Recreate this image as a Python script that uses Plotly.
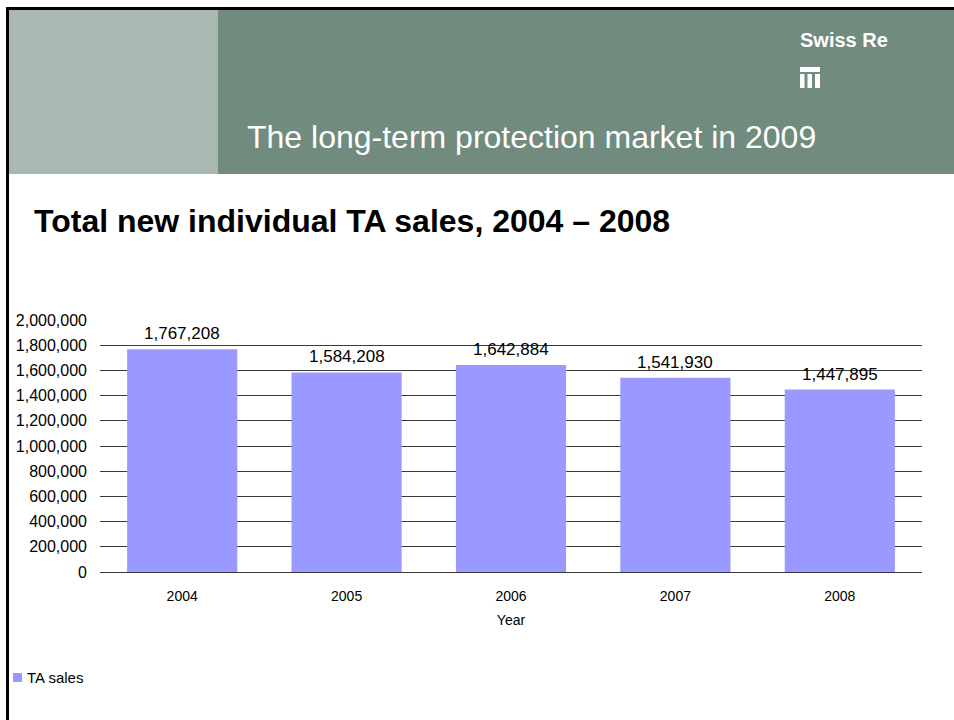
import plotly.graph_objects as go

# Chart data
years = ["2004", "2005", "2006", "2007", "2008"]
ta_sales = [1767208, 1584208, 1642884, 1541930, 1447895]
series_name = "TA sales"
y_ticks = list(range(0, 2000001, 200000))
y_tick_labels = [f"{v:,}" for v in y_ticks]

W, H = 954, 720
FONT = "Liberation Sans, Arial, sans-serif"
BAR_COLOR = "#9999ff"


def px(x):
    return x / W


def py(y):
    return 1 - y / H


# plot area in pixels
PL, PR, PT, PB = 100, 922, 320, 572

fig = go.Figure()
fig.add_trace(go.Bar(
    x=years, y=ta_sales, name=series_name,
    marker=dict(color=BAR_COLOR, line=dict(width=0)),
    showlegend=False,
))

# value labels above the bars (category index positions)
for i, v in enumerate(ta_sales):
    fig.add_annotation(x=i, y=v, xref="x", yref="y", text=f"{v:,}",
                       showarrow=False, yanchor="bottom", yshift=4,
                       font=dict(family=FONT, size=17, color="#000000"))

shapes = [
    # page frame lines
    dict(type="rect", xref="paper", yref="paper", x0=px(6), x1=px(9), y0=0, y1=py(7),
         fillcolor="#000000", line=dict(width=0), layer="above"),
    dict(type="rect", xref="paper", yref="paper", x0=px(6), x1=1, y0=py(10), y1=py(7),
         fillcolor="#000000", line=dict(width=0), layer="above"),
    # header panels
    dict(type="rect", xref="paper", yref="paper", x0=px(9), x1=px(218), y0=py(174), y1=py(10),
         fillcolor="#a9b9b1", line=dict(width=0), layer="below"),
    dict(type="rect", xref="paper", yref="paper", x0=px(218), x1=1, y0=py(174), y1=py(10),
         fillcolor="#718b7f", line=dict(width=0), layer="below"),
    # logo mark
    dict(type="rect", xref="paper", yref="paper", x0=px(800), x1=px(820), y0=py(72), y1=py(67),
         fillcolor="#ffffff", line=dict(width=0)),
    # legend swatch
    dict(type="rect", xref="paper", yref="paper", x0=px(13), x1=px(22), y0=py(682), y1=py(673),
         fillcolor=BAR_COLOR, line=dict(width=0)),
]
for a, b in [(800, 804.5), (807.5, 812), (815, 820)]:
    shapes.append(dict(type="rect", xref="paper", yref="paper", x0=px(a), x1=px(b),
                       y0=py(88), y1=py(74), fillcolor="#ffffff", line=dict(width=0)))

annotations = [
    dict(text="<b>Swiss Re</b>", x=px(798), y=py(40), xref="paper", yref="paper",
         xanchor="left", yanchor="middle", showarrow=False,
         font=dict(family=FONT, size=20, color="#ffffff")),
    dict(text="The long-term protection market in 2009", x=px(245), y=py(137),
         xref="paper", yref="paper", xanchor="left", yanchor="middle", showarrow=False,
         font=dict(family=FONT, size=32, color="#ffffff")),
    dict(text="<b>Total new individual TA sales, 2004 – 2008</b>", x=px(32), y=py(221),
         xref="paper", yref="paper", xanchor="left", yanchor="middle", showarrow=False,
         font=dict(family=FONT, size=32, color="#000000")),
    dict(text=series_name, x=px(25), y=py(677), xref="paper", yref="paper",
         xanchor="left", yanchor="middle", showarrow=False,
         font=dict(family=FONT, size=15, color="#000000")),
]
for a in annotations:
    fig.add_annotation(**a)

fig.update_layout(
    width=W, height=H,
    margin=dict(l=0, r=0, t=0, b=0, autoexpand=False),
    paper_bgcolor="#ffffff", plot_bgcolor="#ffffff",
    shapes=shapes,
    bargap=0.33,
    font=dict(family=FONT, color="#000000"),
    showlegend=False,
    xaxis=dict(
        domain=[px(PL), px(PR)],
        type="category",
        range=[-0.5, 4.5],
        automargin=False,
        showgrid=False, showline=False, ticks="",
        tickfont=dict(family=FONT, size=14, color="#000000"),
        ticklabelstandoff=14,
        title=dict(text="Year", font=dict(family=FONT, size=14, color="#000000"), standoff=12),
    ),
    yaxis=dict(
        domain=[py(PB), py(PT)],
        range=[0, 2000000],
        automargin=False,
        tickvals=y_ticks, ticktext=y_tick_labels,
        showgrid=True, gridcolor="#3a3a3a", gridwidth=1,
        zeroline=True, zerolinecolor="#3a3a3a", zerolinewidth=1,
        showline=False, ticks="",
        tickfont=dict(family=FONT, size=16, color="#000000"),
        ticklabelstandoff=12,
    ),
)

fig.write_html(
    "out.html",
    post_script="document.body.style.margin='0';document.body.style.overflow='hidden';",
)
